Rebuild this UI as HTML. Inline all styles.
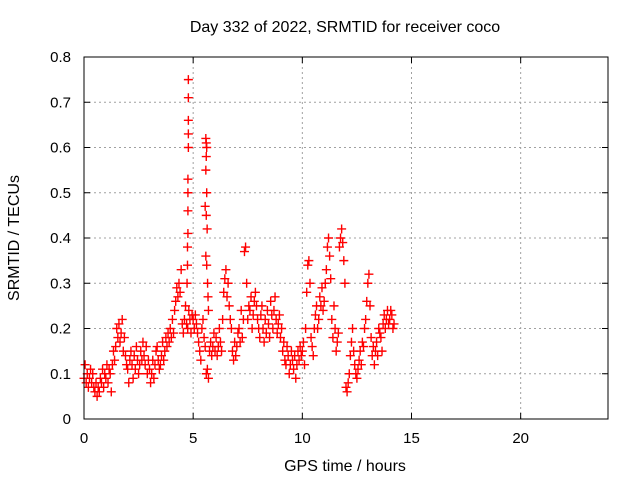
<!DOCTYPE html>
<html><head><meta charset="utf-8"><style>
body{margin:0;background:#fff}
svg{display:block;font-family:"Liberation Sans",sans-serif}
</style></head><body>
<svg id="chart" width="640" height="480">
<text x="345" y="32" text-anchor="middle" font-size="16">Day 332 of 2022, SRMTID for receiver coco</text>
<text transform="translate(19,238) rotate(-90)" text-anchor="middle" font-size="16">SRMTID / TECUs</text>
<text x="345" y="471" text-anchor="middle" font-size="16">GPS time / hours</text>
<g id="grid"></g>
<g id="ticks"></g>
<g id="pts"></g>
<rect x="84" y="57" width="524" height="362" fill="none" stroke="#000" stroke-width="1"/>
</svg>
<script>
const xTicks=[0,5,10,15,20];
const yTicks=[0,0.1,0.2,0.3,0.4,0.5,0.6,0.7,0.8];
const yTickLabels=["0","0.1","0.2","0.3","0.4","0.5","0.6","0.7","0.8"];
const startHour=0, stepHour=0.05;
const srmtid=[
.09,.12,.08,.1,.07,.09,.11,.08,.1,.07,.06,.08,.05,.07,.06,.09,.08,.11,.07,.1,
.09,.12,.08,.11,.1,.06,.12,.15,.13,.16,.2,.18,.21,.17,.19,.22,.15,.18,.14,.12,
.11,.08,.13,.15,.12,.09,.14,.11,.16,.13,.1,.12,.15,.13,.17,.14,.12,.16,.1,.13,
.11,.08,.1,.13,.09,.12,.15,.16,.13,.11,.12,.14,.17,.13,.15,.18,.16,.19,.17,.2,
.18,.22,.19,.24,.26,.29,.27,.3,.28,.33,.21,.19,.22,.25,.21,.2,.24,.22,.19,.23,
.22,.2,.23,.21,.19,.17,.15,.13,.2,.22,.18,.16,.1,.11,.09,.15,.17,.14,.16,.19,
.15,.18,.14,.16,.2,.17,.15,.22,.28,.31,.33,.27,.3,.25,.22,.2,.15,.13,.17,.14,
.16,.19,.2,.17,.24,.18,.22,.37,.38,.3,.22,.25,.24,.27,.2,.23,.26,.28,.25,.22,
.2,.18,.23,.25,.2,.17,.22,.19,.24,.21,.18,.26,.23,.2,.24,.27,.22,.19,.21,.23,
.18,.2,.15,.17,.13,.12,.16,.14,.1,.12,.15,.13,.11,.14,.09,.12,.15,.13,.16,.14,
.15,.17,.12,.2,.28,.34,.35,.3,.18,.16,.14,.2,.23,.25,.2,.22,.27,.25,.29,.24,
.26,.3,.33,.38,.4,.36,.31,.22,.18,.25,.2,.15,.17,.19,.38,.4,.42,.39,.35,.3,
.07,.06,.08,.1,.14,.17,.2,.15,.12,.1,.09,.11,.13,.15,.12,.17,.16,.2,.22,.26,
.3,.32,.25,.18,.14,.16,.12,.15,.17,.14,.2,.19,.18,.15,.21,.23,.2,.22,.24,.21,
.22,.24,.23,.2,.21];
const spikeTimes=[4.78,4.78,4.78,4.78,4.78,4.76,4.76,4.76,4.76,4.74,4.74,4.72,5.58,5.6,5.62,5.6,5.58,5.62,5.55,5.6,5.64,5.58,5.62,5.66,5.68,5.7];
const spikeValues=[.75,.71,.66,.63,.6,.53,.5,.46,.41,.38,.34,.3,.62,.61,.6,.58,.55,.5,.47,.45,.42,.36,.34,.3,.27,.24];
const X=h=>84+h*(524/24);
const Y=v=>419-v*(362/0.8);
const NS="http://www.w3.org/2000/svg";
function mk(tag,attrs,parent){const e=document.createElementNS(NS,tag);for(const k in attrs)e.setAttribute(k,attrs[k]);parent.appendChild(e);return e;}
const grid=document.getElementById('grid'),ticks=document.getElementById('ticks'),pts=document.getElementById('pts');
xTicks.forEach(t=>{const x=X(t);
 if(t>0){const g=mk('line',{x1:x,x2:x,y1:57,y2:419,stroke:'#a0a0a0','stroke-dasharray':'2,3'},grid);
 
 }
 mk('line',{x1:x,x2:x,y1:419,y2:413,stroke:'#000'},ticks);mk('line',{x1:x,x2:x,y1:57,y2:63,stroke:'#000'},ticks);
 const l=mk('text',{x:x,y:443,'text-anchor':'middle','font-size':15},ticks);l.textContent=t;
 
 
});
yTicks.forEach((t,i)=>{const y=Y(t);
 if(t>0&&t<0.8){const g=mk('line',{x1:84,x2:608,y1:y,y2:y,stroke:'#a0a0a0','stroke-dasharray':'2,3'},grid);
 
 }
 mk('line',{x1:84,x2:90,y1:y,y2:y,stroke:'#000'},ticks);mk('line',{x1:608,x2:602,y1:y,y2:y,stroke:'#000'},ticks);
 const l=mk('text',{x:71,y:y+5,'text-anchor':'end','font-size':15},ticks);l.textContent=yTickLabels[i];
 
 
});
function plus(h,v){const x=X(h),y=Y(v);
 const p=mk('path',{d:`M${x-4.5},${y}H${x+4.5}M${x},${y-4.5}V${y+4.5}`,stroke:'#f00','stroke-width':1.4,fill:'none'},pts);
 
 
}
srmtid.forEach((v,i)=>plus(startHour+i*stepHour,v));
spikeTimes.forEach((h,i)=>plus(h,spikeValues[i]));
</script>
</body></html>
